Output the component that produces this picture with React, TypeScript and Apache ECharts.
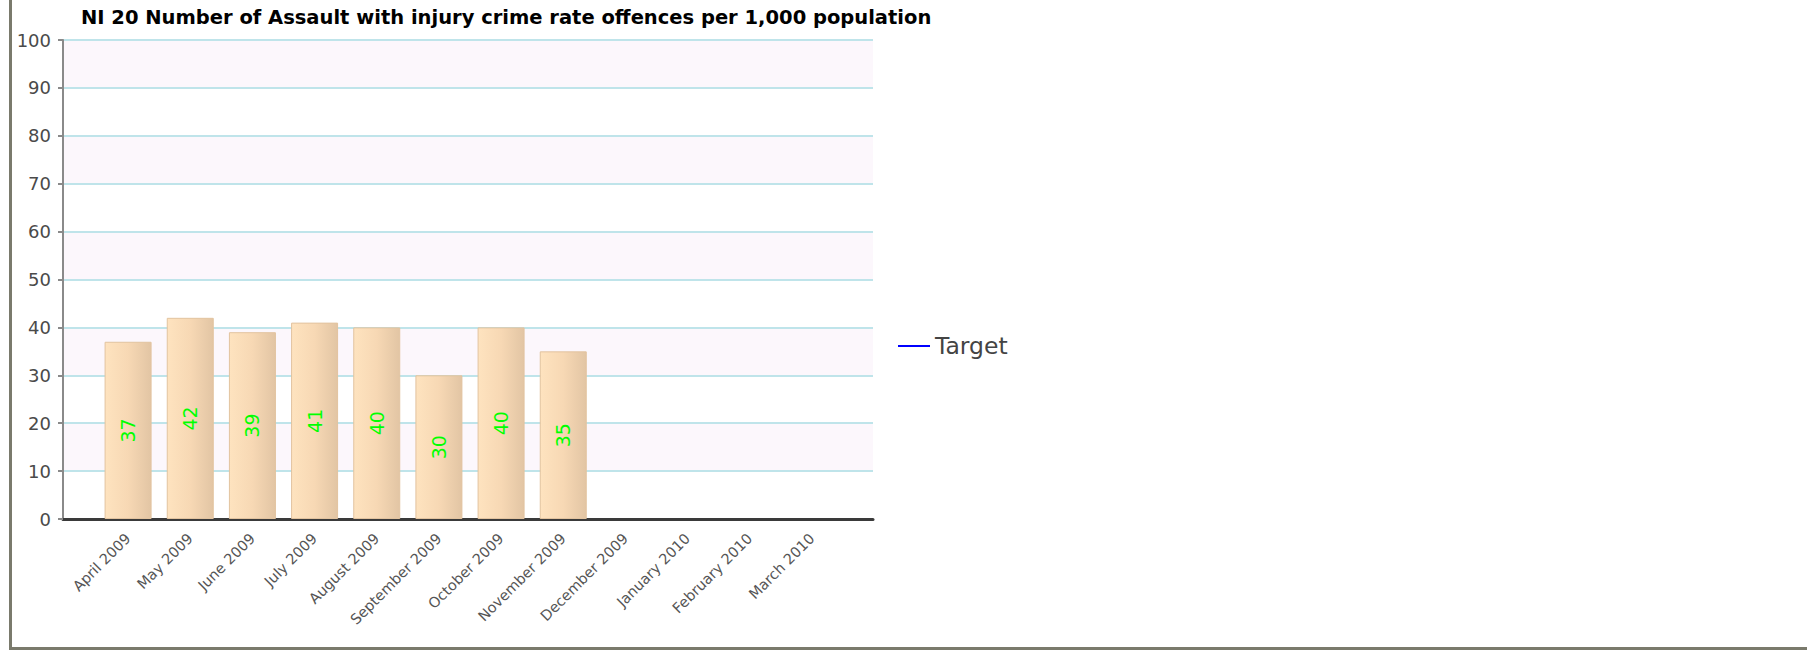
import React, { useEffect, useRef } from "react";
import * as echarts from "echarts";

const titleText = "NI 20 Number of Assault with injury crime rate offences per 1,000 population";
const months = [
  "April 2009", "May 2009", "June 2009", "July 2009", "August 2009", "September 2009",
  "October 2009", "November 2009", "December 2009", "January 2010", "February 2010", "March 2010",
];
const values: (number | null)[] = [37, 42, 39, 41, 40, 30, 40, 35, null, null, null, null];
const targetName = "Target";
const yMin = 0;
const yMax = 100;
const yInterval = 10;

export default function App() {
  const ref = useRef<HTMLDivElement>(null);
  useEffect(() => {
    if (!ref.current) return;
    const chart = echarts.init(ref.current, undefined, { renderer: "svg" });
    const font = "DejaVu Sans";
    const plotTop = 40;
    const plotH = 479;
    chart.setOption({
      animation: false,
      backgroundColor: "#ffffff",
      title: {
        text: titleText,
        left: 76,
        top: 2,
        textStyle: { fontFamily: font, fontSize: 19.5, fontWeight: "bold", color: "#000" },
      },
      legend: {
        data: [{ name: targetName, icon: "rect" }],
        left: 893,
        top: 327,
        orient: "vertical",
        itemWidth: 32,
        itemHeight: 2,
        textStyle: { fontFamily: font, fontSize: 23.5, color: "#444", lineHeight: 28 },
      },
      grid: [
        { left: 63, top: plotTop, width: 810, height: plotH },
        { left: 97, top: plotTop, width: 746, height: plotH },
      ],
      xAxis: [
        {
          type: "category", gridIndex: 0, data: months,
          axisLine: { show: true, lineStyle: { color: "#3a3a3a", width: 3 } },
          axisTick: { show: false }, axisLabel: { show: false },
        },
        {
          type: "category", gridIndex: 1, data: months,
          axisLine: { show: false }, axisTick: { show: false },
          axisLabel: { interval: 0, rotate: 45, fontFamily: font, fontSize: 14.5, color: "#555", margin: 17 },
        },
      ],
      yAxis: [
        {
          type: "value", gridIndex: 0, min: yMin, max: yMax, interval: yInterval,
          axisLine: { show: true, lineStyle: { color: "#8a8a8a", width: 2 } },
          axisTick: { show: true, length: 5, lineStyle: { color: "#8a8a8a", width: 2 } },
          axisLabel: { fontFamily: font, fontSize: 18, color: "#4a4a4a", margin: 12 },
          splitLine: { show: true, lineStyle: { color: "#bfe4ea", width: 2 } },
          splitArea: { show: true, areaStyle: { color: ["#ffffff", "#fcf7fc"] } },
        },
        {
          type: "value", gridIndex: 1, min: yMin, max: yMax, interval: yInterval,
          show: false, splitLine: { show: false },
        },
      ],
      series: [
        {
          type: "bar",
          name: "Value",
          xAxisIndex: 1,
          yAxisIndex: 1,
          data: values,
          barWidth: 47,
          itemStyle: {
            color: new echarts.graphic.LinearGradient(0, 0, 1, 0, [
              { offset: 0, color: "#fee3bf" },
              { offset: 0.5, color: "#f7d8b4" },
              { offset: 1, color: "#e2c5a4" },
            ]),
            borderColor: "#e2c39f",
            borderWidth: 1,
          },
          label: {
            show: true,
            position: "inside",
            rotate: 90,
            fontFamily: font,
            fontSize: 19,
            color: "#00ff00",
          },
        },
        {
          type: "line",
          name: targetName,
          xAxisIndex: 0,
          yAxisIndex: 0,
          data: [],
          color: "#0000ff",
          showSymbol: false,
        },
      ],
      graphic: [
        { type: "rect", left: 9, top: 0, shape: { width: 3, height: 650 }, style: { fill: "#7a7a6c" } },
        { type: "rect", left: 9, top: 647, shape: { width: 1798, height: 3 }, style: { fill: "#7a7a6c" } },
      ],
    });
    return () => chart.dispose();
  }, []);
  return (
    <div
      ref={ref}
      style={{ position: "fixed", left: 0, top: 0, width: 1807, height: 652 }}
    />
  );
}
